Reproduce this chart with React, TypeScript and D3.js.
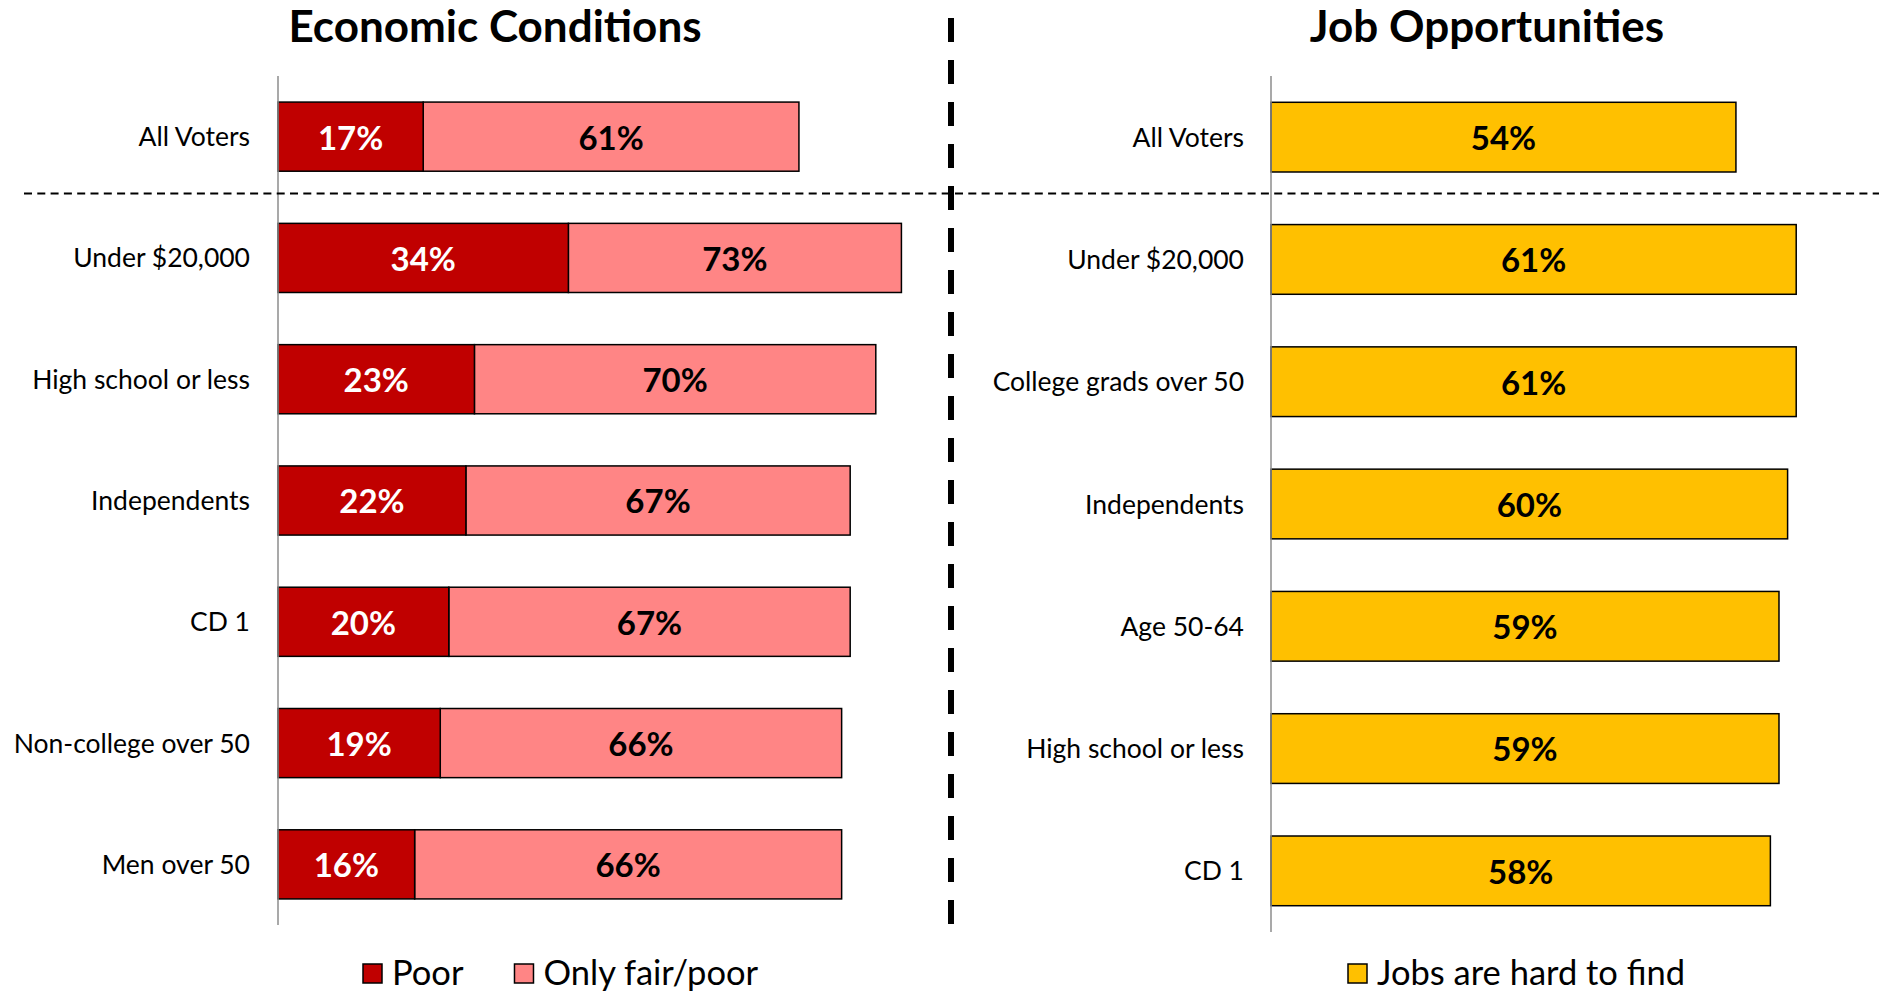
import React, { useEffect, useRef } from 'react';
import * as d3 from 'd3';

// left panel: economic conditions
const econCategories = [
  'All Voters',
  'Under $20,000',
  'High school or less',
  'Independents',
  'CD 1',
  'Non-college over 50',
  'Men over 50',
];
const poorValues = [17, 34, 23, 22, 20, 19, 16];
const fairPoorValues = [61, 73, 70, 67, 67, 66, 66];

// right panel: job opportunities
const jobCategories = [
  'All Voters',
  'Under $20,000',
  'College grads over 50',
  'Independents',
  'Age 50-64',
  'High school or less',
  'CD 1',
];
const hardToFindValues = [54, 61, 61, 60, 59, 59, 58];

const econLegend = ['Poor', 'Only fair/poor'];
const jobLegend = ['Jobs are hard to find'];

const W = 1886;
const H = 991;
const FONT = 'Lato, "Open Sans", sans-serif';

const DARK_RED = '#C00000';
const PINK = '#FF8585';
const GOLD = '#FFC000';

const App: React.FC = () => {
  const svgRef = useRef<SVGSVGElement>(null);

  useEffect(() => {
    if (!svgRef.current) return;
    const svg = d3.select(svgRef.current);
    svg.selectAll('*').remove();

    svg.append('rect').attr('width', W).attr('height', H).attr('fill', '#fff');

    const pct = (v: number) => `${v}%`;

    // ---------- left panel ----------
    const xL = d3.scaleLinear().domain([0, 100]).range([278, 1132]);
    const yL = d3.scaleBand()
      .domain(econCategories)
      .range([76, 925])
      .paddingInner(0.43)
      .paddingOuter(0.215);

    const rowsL = econCategories.map((c, i) => ({ c, poor: poorValues[i], total: fairPoorValues[i] }));
    const gL = svg.append('g');

    gL.selectAll('.fair')
      .data(rowsL)
      .enter()
      .append('rect')
      .attr('x', d => xL(d.poor))
      .attr('y', d => yL(d.c)!)
      .attr('width', d => xL(d.total) - xL(d.poor))
      .attr('height', yL.bandwidth())
      .attr('fill', PINK)
      .attr('stroke', '#000')
      .attr('stroke-width', 1.5);

    gL.selectAll('.poor')
      .data(rowsL)
      .enter()
      .append('rect')
      .attr('x', xL(0))
      .attr('y', d => yL(d.c)!)
      .attr('width', d => xL(d.poor) - xL(0))
      .attr('height', yL.bandwidth())
      .attr('fill', DARK_RED)
      .attr('stroke', '#000')
      .attr('stroke-width', 1.5);

    gL.selectAll('.poorLbl')
      .data(rowsL)
      .enter()
      .append('text')
      .attr('x', d => (xL(0) + xL(d.poor)) / 2)
      .attr('y', d => yL(d.c)! + yL.bandwidth() / 2 + 1)
      .attr('dy', '0.36em')
      .attr('text-anchor', 'middle')
      .attr('font-family', FONT)
      .attr('font-weight', 'bold')
      .attr('font-size', 33)
      .attr('fill', '#fff')
      .text(d => pct(d.poor));

    gL.selectAll('.fairLbl')
      .data(rowsL)
      .enter()
      .append('text')
      .attr('x', d => (xL(d.poor) + xL(d.total)) / 2)
      .attr('y', d => yL(d.c)! + yL.bandwidth() / 2 + 1)
      .attr('dy', '0.36em')
      .attr('text-anchor', 'middle')
      .attr('font-family', FONT)
      .attr('font-weight', 'bold')
      .attr('font-size', 33)
      .attr('fill', '#000')
      .text(d => pct(d.total));

    gL.selectAll('.cat')
      .data(rowsL)
      .enter()
      .append('text')
      .attr('x', 250)
      .attr('y', d => yL(d.c)! + yL.bandwidth() / 2)
      .attr('dy', '0.36em')
      .attr('text-anchor', 'end')
      .attr('font-family', FONT)
      .attr('font-size', 26.5)
      .attr('fill', '#000')
      .text(d => d.c);

    gL.append('line')
      .attr('x1', xL(0)).attr('x2', xL(0))
      .attr('y1', 76).attr('y2', 925)
      .attr('stroke', '#8c8c8c')
      .attr('stroke-width', 1.5);

    // ---------- right panel ----------
    const xR = d3.scaleLinear().domain([0, 100]).range([1271, 2132]);
    const yR = d3.scaleBand()
      .domain(jobCategories)
      .range([76, 932])
      .paddingInner(0.43)
      .paddingOuter(0.215);

    const rowsR = jobCategories.map((c, i) => ({ c, v: hardToFindValues[i] }));
    const gR = svg.append('g');

    gR.selectAll('.bar')
      .data(rowsR)
      .enter()
      .append('rect')
      .attr('x', xR(0))
      .attr('y', d => yR(d.c)!)
      .attr('width', d => xR(d.v) - xR(0))
      .attr('height', yR.bandwidth())
      .attr('fill', GOLD)
      .attr('stroke', '#000')
      .attr('stroke-width', 1.5);

    gR.selectAll('.lbl')
      .data(rowsR)
      .enter()
      .append('text')
      .attr('x', d => (xR(0) + xR(d.v)) / 2)
      .attr('y', d => yR(d.c)! + yR.bandwidth() / 2 + 1)
      .attr('dy', '0.36em')
      .attr('text-anchor', 'middle')
      .attr('font-family', FONT)
      .attr('font-weight', 'bold')
      .attr('font-size', 33)
      .attr('fill', '#000')
      .text(d => pct(d.v));

    gR.selectAll('.cat')
      .data(rowsR)
      .enter()
      .append('text')
      .attr('x', 1244)
      .attr('y', d => yR(d.c)! + yR.bandwidth() / 2)
      .attr('dy', '0.36em')
      .attr('text-anchor', 'end')
      .attr('font-family', FONT)
      .attr('font-size', 26.5)
      .attr('fill', '#000')
      .text(d => d.c);

    gR.append('line')
      .attr('x1', xR(0)).attr('x2', xR(0))
      .attr('y1', 76).attr('y2', 932)
      .attr('stroke', '#8c8c8c')
      .attr('stroke-width', 1.5);

    // ---------- titles ----------
    const titles = [
      { t: 'Economic Conditions', x: 495 },
      { t: 'Job Opportunities', x: 1487 },
    ];
    svg.selectAll('.title')
      .data(titles)
      .enter()
      .append('text')
      .attr('x', d => d.x)
      .attr('y', 42)
      .attr('text-anchor', 'middle')
      .attr('font-family', FONT)
      .attr('font-weight', 'bold')
      .attr('font-size', 44)
      .attr('fill', '#000')
      .text(d => d.t);

    // ---------- separators ----------
    svg.append('line')
      .attr('x1', 24).attr('x2', 1879)
      .attr('y1', 193.5).attr('y2', 193.5)
      .attr('stroke', '#000')
      .attr('stroke-width', 2)
      .attr('stroke-dasharray', '8 5.3');

    svg.append('line')
      .attr('x1', 951).attr('x2', 951)
      .attr('y1', 18).attr('y2', 928)
      .attr('stroke', '#000')
      .attr('stroke-width', 6)
      .attr('stroke-dasharray', '24 18');

    // ---------- legends ----------
    const drawLegend = (items: string[], colors: string[], startX: number) => {
      let x = startX;
      items.forEach((name, i) => {
        const g = svg.append('g');
        g.append('rect')
          .attr('x', x + 1)
          .attr('y', 964)
          .attr('width', 19)
          .attr('height', 19)
          .attr('fill', colors[i])
          .attr('stroke', '#000')
          .attr('stroke-width', 1.5);
        const t = g.append('text')
          .attr('x', x + 30)
          .attr('y', 985)
          .attr('font-family', FONT)
          .attr('font-size', 34.5)
          .attr('fill', '#000')
          .text(name);
        const w = (t.node() as SVGTextElement).getComputedTextLength();
        x = x + 30 + w + 50;
      });
    };
    drawLegend(econLegend, [DARK_RED, PINK], 362);
    drawLegend(jobLegend, [GOLD], 1347);
  }, []);

  return (
    <div style={{ position: 'absolute', left: 0, top: 0 }}>
      <svg ref={svgRef} width={W} height={H} style={{ display: 'block' }}></svg>
    </div>
  );
};

export default App;
